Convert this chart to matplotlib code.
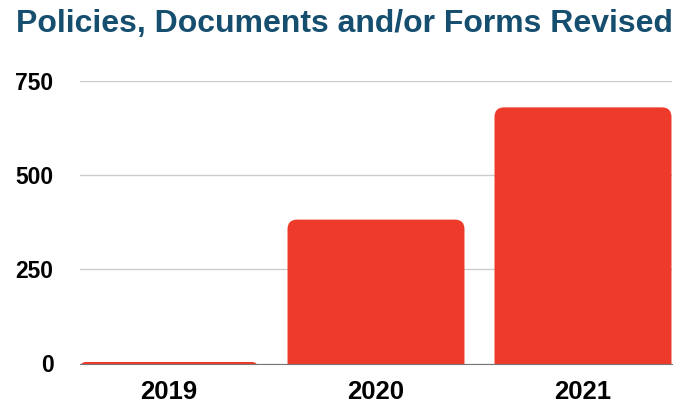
import matplotlib.pyplot as plt
from matplotlib.patches import FancyBboxPatch

years = ['2019', '2020', '2021']
revised = [4, 382, 680]
yticks = [0, 250, 500, 750]

bar_color = '#ee3a2b'
title_color = '#154e6e'

plt.rcParams['font.family'] = ['Liberation Sans', 'DejaVu Sans']

fig = plt.figure(figsize=(6.88, 4.05), dpi=100)
ax = fig.add_axes([80 / 688, 41.5 / 405, 592 / 688, 282.5 / 405])
ax.set_xlim(-0.43, 2.43)
ax.set_ylim(0, 750)

# rounded tops: corner radius given in x units, aspect converts it to y units
width = 0.855
rx = 0.046
aspect = 550
for i, v in enumerate(revised):
    bottom = -rx * aspect
    h = v - bottom
    r = min(rx, h / aspect / 2)
    patch = FancyBboxPatch((i - width / 2, bottom), width, h,
                           boxstyle=f'round,pad=0,rounding_size={r}',
                           mutation_aspect=aspect,
                           facecolor=bar_color, edgecolor='none', zorder=3)
    ax.add_patch(patch)

ax.set_yticks(yticks)
ax.set_yticklabels([str(t) for t in yticks], fontsize=16.5, fontweight='bold')
ax.set_xticks(range(len(years)))
ax.set_xticklabels(years, fontsize=18.5, fontweight='bold')
ax.tick_params(axis='y', length=0, pad=19)
ax.tick_params(axis='x', length=0, pad=12)
ax.grid(axis='y', color='#cccccc', linewidth=1, zorder=0)
for s in ['top', 'right', 'left']:
    ax.spines[s].set_visible(False)
ax.spines['bottom'].set_color('#777777')
ax.spines['bottom'].set_zorder(4)

fig.text(16 / 688, 1 - 24 / 405, 'Policies, Documents and/or Forms Revised',
         fontsize=23, fontweight='bold', color=title_color, va='center', ha='left')

fig.savefig('out.png', dpi=100)
